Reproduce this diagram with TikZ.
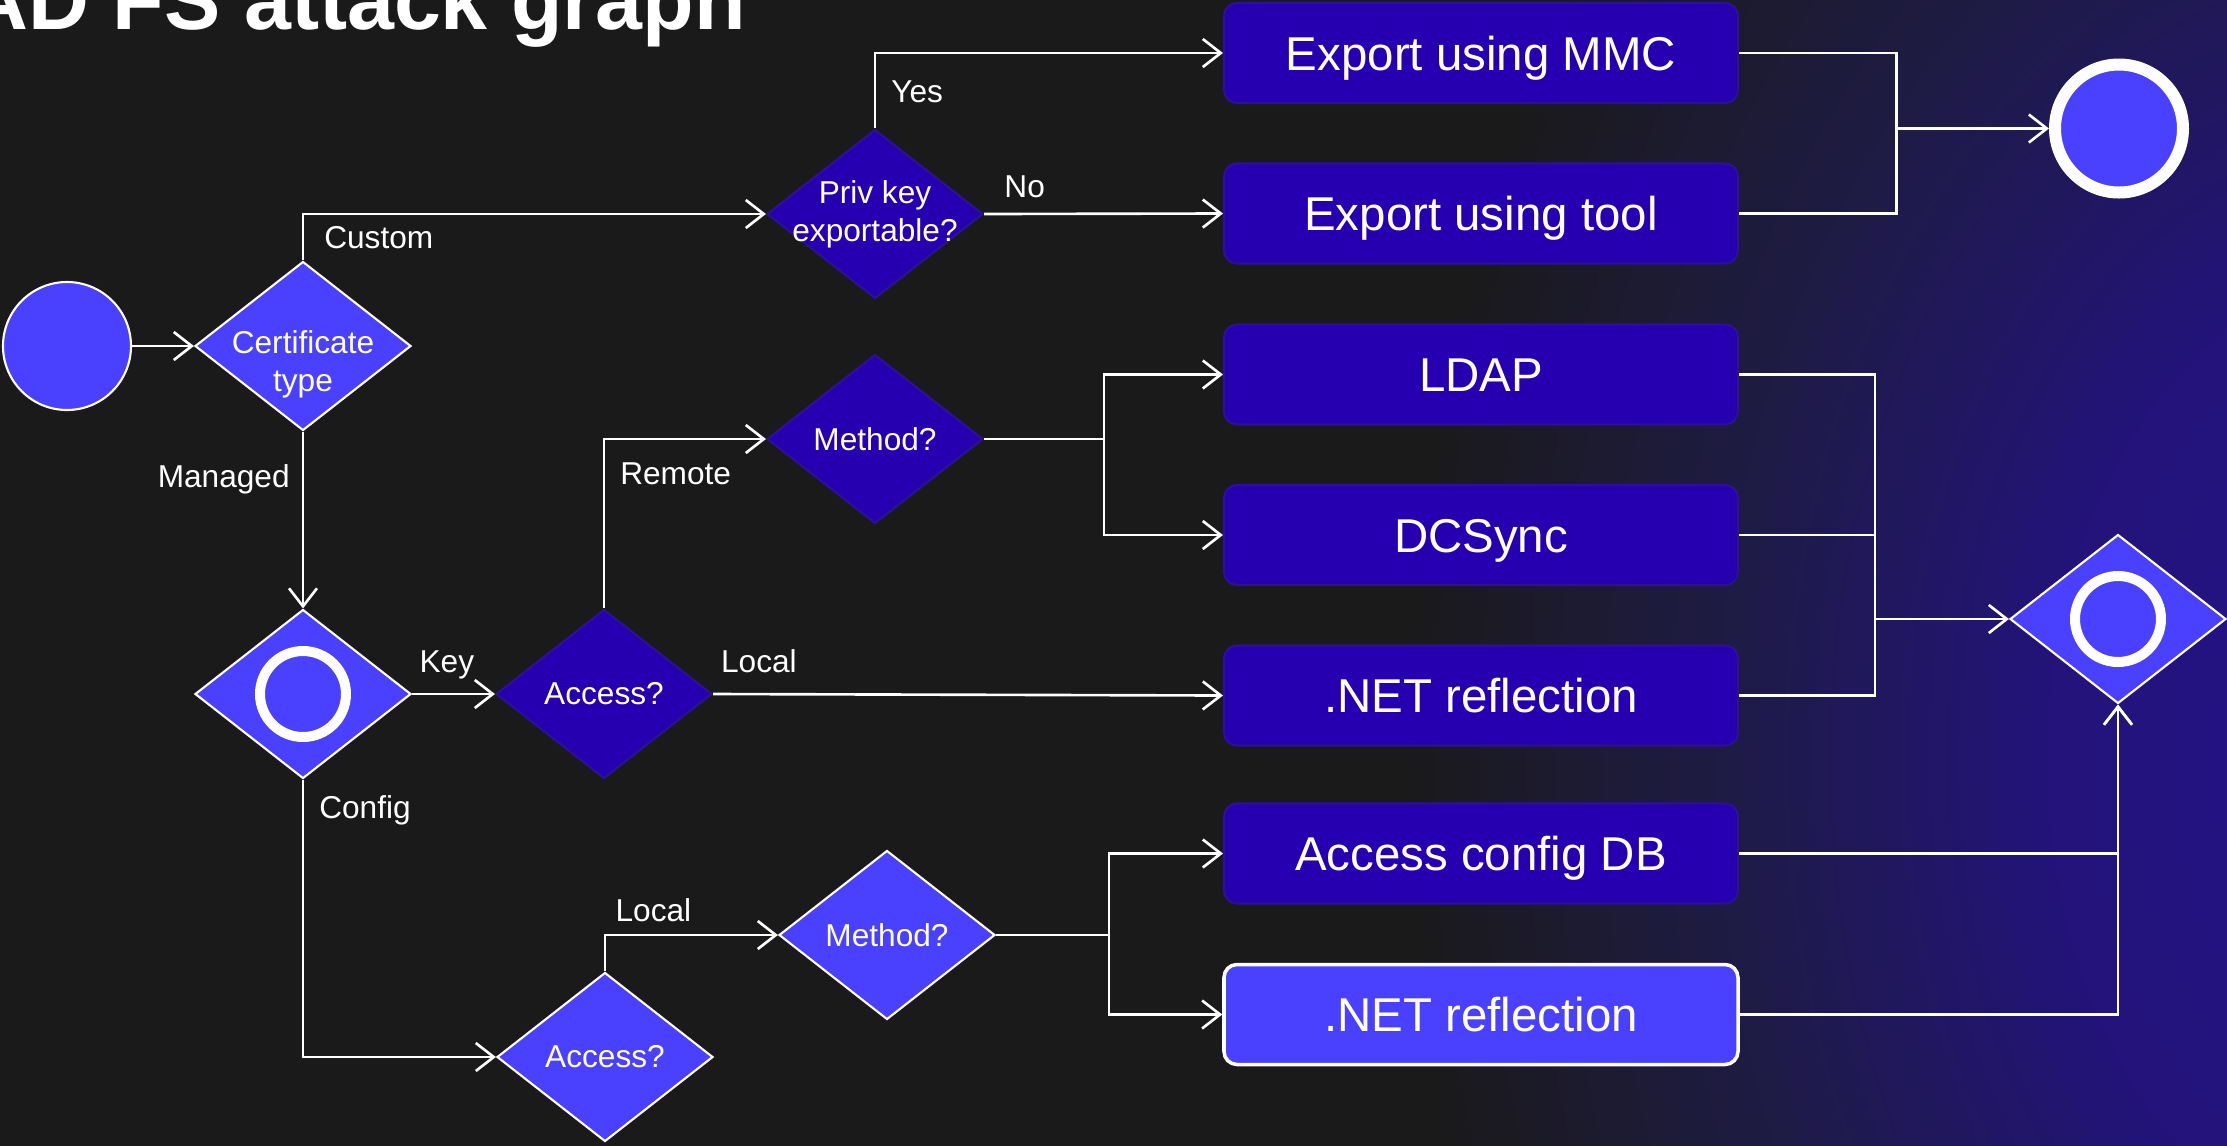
\documentclass[tikz,border=0pt]{standalone}
\usepackage{fontspec}
\setmainfont{Liberation Sans}
\usepackage{xcolor}
\usetikzlibrary{shapes.geometric, arrows.meta}
\definecolor{canvas}{RGB}{26, 26, 26}
\definecolor{glowmid}{RGB}{33, 28, 96}
\definecolor{glowlow}{RGB}{36, 18, 138}
\definecolor{deep}{RGB}{38, 0, 176}
\definecolor{deepedge}{RGB}{44, 16, 150}
\definecolor{bright}{RGB}{74, 64, 255}
\pgfdeclareradialshading{sideglow}{\pgfpoint{0bp}{0bp}}{color(0bp)=(glowlow); color(9bp)=(glowlow!85!canvas); color(17bp)=(glowmid!60!canvas); color(25bp)=(canvas); color(50bp)=(canvas)}
\tikzstyle{decision} = [diamond, aspect=1.28, minimum width=2.16cm, minimum height=1.69cm, inner sep=-4pt, align=center, text=white, font=\fontsize{9}{10.8}\selectfont, fill=deep, draw=deepedge, line width=0.6pt]
\tikzstyle{decisionlight} = [decision, fill=bright, draw=white]
\tikzstyle{action} = [rectangle, rounded corners=0.13cm, minimum width=5.14cm, minimum height=1cm, text centered, text=white, font=\fontsize{13.5}{16}\selectfont, text height=0.34cm, text depth=0pt, fill=deep, draw=deepedge, line width=0.6pt]
\tikzstyle{actionlight} = [action, fill=bright, draw=white, line width=1pt]
\tikzstyle{terminal} = [circle, minimum size=1.28cm, inner sep=0pt, fill=bright, draw=white, line width=0.6pt]
\tikzstyle{ring} = [path picture={\draw[white, line width=0.1cm] (path picture bounding box.center) circle (0.43cm);}]
\tikzstyle{edgelabel} = [text=white, font=\fontsize{9}{10.8}\selectfont, inner sep=0pt, text height=0.226cm, text depth=0pt]
\tikzstyle{arrow} = [white, line width=0.75pt, -{Straight Barb[length=1.8mm, width=2.8mm]}]
\tikzstyle{link} = [white, line width=0.75pt]

\begin{document}
\begin{tikzpicture}
    % Canvas
    \useasboundingbox (0,0) rectangle (22.27,-11.45);
    \fill[canvas] (-0.2,0.2) rectangle (22.5,-11.7);
    \begin{scope}
        \clip (-0.2,0.2) rectangle (22.5,-11.7);
        \shade[shading=sideglow] (24,-7.6) ellipse (10 and 14);
    \end{scope}

    % Title
    \node[anchor=base west, inner sep=0pt, text=white, font=\fontsize{24}{28}\selectfont\bfseries] (title) at (-0.33,-0.29) {AD FS attack graph};

    % Entry and certificate type
    \node[terminal] (start) at (0.67,-3.46) {};
    \node[decisionlight, text height=0.98cm] (cert) at (3.03,-3.46) {Certificate\\type};

    % Custom certificate
    \node[decision] (privkey) at (8.75,-2.14) {Priv key\\exportable?};

    % Managed certificate
    \node[decisionlight, ring] (managed) at (3.03,-6.94) {};
    \node[decision] (keyaccess) at (6.04,-6.94) {Access?};
    \node[decision] (keymethod) at (8.75,-4.39) {Method?};
    \node[decisionlight] (cfgaccess) at (6.05,-10.57) {Access?};
    \node[decisionlight] (cfgmethod) at (8.87,-9.35) {Method?};

    % Techniques
    \node[action] (mmc) at (14.81,-0.53) {Export using MMC};
    \node[action] (tool) at (14.81,-2.135) {Export using tool};
    \node[action] (ldap) at (14.81,-3.745) {LDAP};
    \node[action] (dcsync) at (14.81,-5.35) {DCSync};
    \node[action] (netkey) at (14.81,-6.955) {.NET reflection};
    \node[action] (configdb) at (14.81,-8.535) {Access config DB};
    \node[actionlight] (netcfg) at (14.81,-10.145) {.NET reflection};

    % Outcomes
    \node[terminal, line width=0.12cm] (stolen) at (21.19,-1.285) {};
    \node[decisionlight, ring] (dumped) at (21.18,-6.19) {};

    % Split and join points
    \coordinate (splitkey) at (11.04,-4.39);
    \coordinate (splitcfg) at (11.09,-9.35);
    \coordinate (joinexport) at (18.965,-1.285);
    \coordinate (joindump) at (18.75,-6.19);

    % Arrows
    \draw[arrow] (start) -- (cert);
    \draw[arrow] (cert.north) |- node[edgelabel, pos=0.25, right=0.2cm] {Custom} (privkey.west);
    \draw[arrow] (privkey.north) |- node[edgelabel, pos=0.25, right=0.15cm] {Yes} (mmc.west);
    \draw[arrow] (privkey.east) -- node[edgelabel, pos=0.17, above=0.15cm] {No} (tool.west);
    \draw[arrow] (cert.south) -- node[edgelabel, pos=0.25, left=0.12cm] {Managed} (managed.north);
    \draw[arrow] (managed.east) -- node[edgelabel, pos=0.42, above=0.2cm] {Key} (keyaccess.west);
    \draw[arrow] (keyaccess.north) |- node[edgelabel, pos=0.4, right=0.15cm] {Remote} (keymethod.west);
    \draw[arrow] (keyaccess.east) -- node[edgelabel, pos=0.09, above=0.2cm] {Local} (netkey.west);
    \draw[arrow] (managed.south) |- node[edgelabel, pos=0.05, right=0.15cm] {Config} (cfgaccess.west);
    \draw[arrow] (cfgaccess.north) |- node[edgelabel, pos=0.64, above=0.12cm] {Local} (cfgmethod.west);
    \draw[link] (keymethod.east) -- (splitkey);
    \draw[arrow] (splitkey) |- (ldap.west);
    \draw[arrow] (splitkey) |- (dcsync.west);
    \draw[link] (cfgmethod.east) -- (splitcfg);
    \draw[arrow] (splitcfg) |- (configdb.west);
    \draw[arrow] (splitcfg) |- (netcfg.west);
    \draw[link] (mmc.east) -| (joinexport);
    \draw[link] (tool.east) -| (joinexport);
    \draw[arrow] (joinexport) -- (stolen);
    \draw[link] (ldap.east) -| (joindump);
    \draw[link] (dcsync.east) -| (joindump);
    \draw[link] (netkey.east) -| (joindump);
    \draw[arrow] (joindump) -- (dumped);
    \draw[arrow] (configdb.east) -| (dumped.south);
    \draw[arrow] (netcfg.east) -| (dumped.south);
\end{tikzpicture}
\end{document}
